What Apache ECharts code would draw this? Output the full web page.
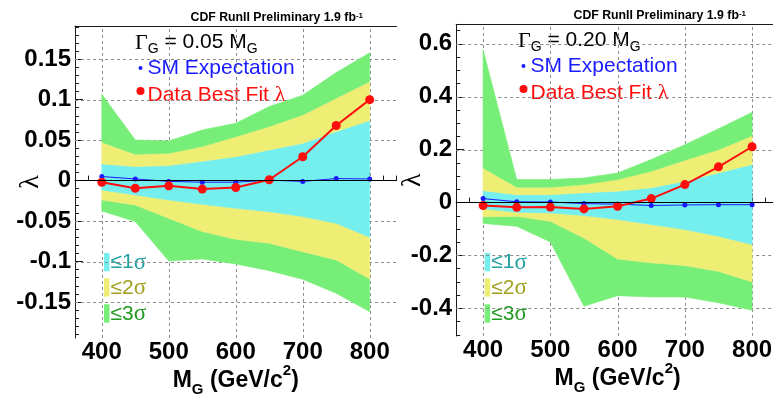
<!DOCTYPE html>
<html>
<head>
<meta charset="utf-8">
<script src="https://cdn.jsdelivr.net/npm/echarts@6/dist/echarts.min.js"></script>
<style>
  html, body { margin: 0; padding: 0; background: #fff; }
  #chart { width: 773px; height: 394px; }
</style>
</head>
<body>
<div id="chart"></div>
<script>
// Graviton mass points (GeV/c^2)
const massPoints = [400, 450, 500, 550, 600, 650, 700, 750, 800];
const xTickLabels = [400, 500, 600, 700, 800];

// Width = 0.05 M_G
const smNarrow  = [0.005, 0.002, -0.001, -0.002, -0.002, 0.0005, -0.001, 0.0025, 0.002];
const fitNarrow = [-0.002, -0.0095, -0.0065, -0.0105, -0.0085, 0.001, 0.0295, 0.068, 0.1];
const up1Narrow = [0.0206, 0.0173, 0.0185, 0.0239, 0.0296, 0.0379, 0.0461, 0.0605, 0.0741];
const up2Narrow = [0.0474, 0.0325, 0.0337, 0.042, 0.0543, 0.0667, 0.0811, 0.1018, 0.1223];
const up3Narrow = [0.1067, 0.0502, 0.049, 0.0626, 0.0709, 0.0914, 0.1055, 0.1335, 0.158];
const dn1Narrow = [-0.0116, -0.0177, -0.0239, -0.0293, -0.0342, -0.0384, -0.0445, -0.0528, -0.07];
const dn2Narrow = [-0.0239, -0.0301, -0.0466, -0.063, -0.0725, -0.0775, -0.0878, -0.098, -0.1216];
const dn3Narrow = [-0.0375, -0.0507, -0.0993, -0.0968, -0.103, -0.1113, -0.122, -0.1393, -0.162];
const yTicksNarrow = [-0.15, -0.1, -0.05, 0, 0.05, 0.1, 0.15];

// Width = 0.20 M_G
const smWide  = [0.015, 0.003, 0.002, -0.004, -0.006, -0.011, -0.009, -0.008, -0.008];
const fitWide = [-0.011, -0.018, -0.017, -0.024, -0.014, 0.015, 0.068, 0.135, 0.211];
const up1Wide = [0.045, 0.03, 0.03, 0.037, 0.043, 0.056, 0.081, 0.112, 0.144];
const up2Wide = [0.131, 0.058, 0.058, 0.068, 0.087, 0.118, 0.16, 0.2, 0.253];
const up3Wide = [0.578, 0.087, 0.087, 0.093, 0.112, 0.163, 0.219, 0.279, 0.341];
const dn1Wide = [-0.023, -0.037, -0.039, -0.049, -0.064, -0.083, -0.102, -0.127, -0.159];
const dn2Wide = [-0.054, -0.052, -0.071, -0.134, -0.213, -0.228, -0.238, -0.26, -0.3];
const dn3Wide = [-0.079, -0.09, -0.149, -0.392, -0.352, -0.357, -0.357, -0.379, -0.407];
const yTicksWide = [-0.4, -0.2, 0, 0.2, 0.4, 0.6];

const widthLabels = ['0.05', '0.20'];
const bandLabels = ['≤1', '≤2', '≤3'];
const headerText = 'CDF RunII Preliminary 1.9 fb';

const SANS = '"Liberation Sans", Arial, Helvetica, sans-serif';
const SERIF = '"Liberation Serif", "Times New Roman", serif';
const CYAN = '#75eeee', YELLOW = '#eeee75', GREEN = '#77ee77';
const bandTextColors = ['#20a0a0', '#a0a020', '#209a20'];
const AXIS = '#1a1a1a';
const GRID_COLOR = '#8c8c8c';
const X_MIN = 360, X_MAX = 840;

function stepTicks(lo, hi, step) {
  const out = [];
  for (let k = Math.ceil(lo / step - 1e-9); k * step <= hi + 1e-9; k++) out.push(+(k * step).toFixed(4));
  return out;
}

const panels = [
  { grid: { left: 75, top: 26, width: 321.5, height: 312 }, yMin: -0.1945, yMax: 0.191,
    yTicks: yTicksNarrow, yMinor: 0.01, sm: smNarrow, fit: fitNarrow,
    up: [up1Narrow, up2Narrow, up3Narrow], dn: [dn1Narrow, dn2Narrow, dn3Narrow],
    header: { x: 363, y: 12 }, ann: { x: 135, y: 32 }, legendX: 104 },
  { grid: { left: 456.2, top: 24.3, width: 322.8, height: 311.7 }, yMin: -0.5045, yMax: 0.674,
    yTicks: yTicksWide, yMinor: 0.05, sm: smWide, fit: fitWide,
    up: [up1Wide, up2Wide, up3Wide], dn: [dn1Wide, dn2Wide, dn3Wide],
    header: { x: 746, y: 10 }, ann: { x: 518, y: 30 }, legendX: 484.7 }
];

const grids = [], xAxes = [], yAxes = [], series = [], graphics = [];

// filled band between two boundary curves
function band(pi, lower, upper, color) {
  return {
    type: 'custom', xAxisIndex: 3 * pi, yAxisIndex: 2 * pi, silent: true, z: 2,
    data: [[600, 0]],
    renderItem(params, api) {
      const pts = massPoints.map((m, k) => api.coord([m, upper[k]]));
      for (let k = massPoints.length - 1; k >= 0; k--) pts.push(api.coord([massPoints[k], lower[k]]));
      return { type: 'polygon', shape: { points: pts }, style: { fill: color, stroke: color, lineWidth: 0.6 } };
    }
  };
}

// dashed grid at the labelled ticks: one polyline per grid line, dashed through lineDash
function gridLine(pi, from, to) {
  return {
    type: 'custom', xAxisIndex: 3 * pi, yAxisIndex: 2 * pi, silent: true, z: 2,
    data: [[600, 0]],
    renderItem(params, api) {
      const a = api.coord(from), b = api.coord(to);
      const snap = v => Math.round(v) + 0.5;
      const vertical = from[0] === to[0];
      const pts = vertical ? [[snap(a[0]), a[1]], [snap(b[0]), b[1]]] : [[a[0], snap(a[1])], [b[0], snap(b[1])]];
      return {
        type: 'polyline', shape: { points: pts },
        style: { stroke: GRID_COLOR, lineWidth: 1, lineDash: [3, 3], fill: null }
      };
    }
  };
}

panels.forEach((p, pi) => {
  grids.push(Object.assign({ containLabel: false, outerBoundsMode: 'none' }, p.grid));

  // primary x axis: minor ticks every 20, labels on the hundreds
  xAxes.push({
    gridIndex: pi, type: 'value', min: X_MIN, max: X_MAX, interval: 20, position: 'bottom',
    axisLine: { show: true, lineStyle: { color: AXIS, width: 1 } },
    axisTick: { show: true, inside: true, length: 5, lineStyle: { color: AXIS } },
    axisLabel: { customValues: xTickLabels, fontSize: 24, fontWeight: 'bold', fontFamily: SANS, color: '#000', margin: 2 },
    splitLine: { show: false },
    name: '{m|M}{s|G}{m| (GeV/c}{p|2}{m|)}',
    nameLocation: 'middle', nameGap: 25, nameMoveOverlap: false,
    nameTextStyle: {
      rich: {
        m: { fontSize: 23, fontWeight: 'bold', fontFamily: SANS, color: '#000', verticalAlign: 'top', padding: [6, 0, 0, 0] },
        s: { fontSize: 15, fontWeight: 'bold', fontFamily: SANS, color: '#000', verticalAlign: 'bottom', padding: [19, 0, 0, 0] },
        p: { fontSize: 15, fontWeight: 'bold', fontFamily: SANS, color: '#000', verticalAlign: 'top' }
      }
    }
  });
  // major ticks on the hundreds
  xAxes.push({
    gridIndex: pi, type: 'value', min: X_MIN, max: X_MAX, interval: 20, position: 'bottom',
    axisLine: { show: false },
    axisTick: { show: true, inside: true, length: 9, customValues: xTickLabels, lineStyle: { color: AXIS } },
    axisLabel: { show: false }, splitLine: { show: false }
  });
  // upper frame edge
  xAxes.push({
    gridIndex: pi, type: 'value', min: X_MIN, max: X_MAX, interval: 20, position: 'top',
    axisLine: { show: true, lineStyle: { color: AXIS, width: 1 } },
    axisTick: { show: false }, axisLabel: { show: false }, splitLine: { show: false }
  });

  yAxes.push({
    gridIndex: pi, type: 'value', min: p.yMin, max: p.yMax, position: 'left',
    axisLine: { show: true, onZero: false, lineStyle: { color: AXIS, width: 1 } },
    axisTick: { show: true, inside: true, length: 8, customValues: p.yTicks, lineStyle: { color: AXIS } },
    axisLabel: { customValues: p.yTicks, fontSize: 24, fontWeight: 'bold', fontFamily: SANS, color: '#000', margin: 4 },
    splitLine: { show: false },
    name: 'λ', nameLocation: 'middle', nameRotate: 90, nameGap: 30, nameMoveOverlap: false,
    nameTextStyle: { fontFamily: SERIF, fontSize: 28, color: '#000' }
  });
  yAxes.push({
    gridIndex: pi, type: 'value', min: p.yMin, max: p.yMax, position: 'left',
    axisLine: { show: false },
    axisTick: { show: true, inside: true, length: 4, customValues: stepTicks(p.yMin, p.yMax, p.yMinor), lineStyle: { color: AXIS } },
    axisLabel: { show: false }, splitLine: { show: false }
  });

  xTickLabels.forEach(v => series.push(gridLine(pi, [v, p.yMin], [v, p.yMax])));
  p.yTicks.filter(v => v !== 0).forEach(v => series.push(gridLine(pi, [X_MIN, v], [X_MAX, v])));

  // significance bands
  series.push(band(pi, p.dn[2], p.dn[1], GREEN));
  series.push(band(pi, p.dn[1], p.dn[0], YELLOW));
  series.push(band(pi, p.dn[0], p.up[0], CYAN));
  series.push(band(pi, p.up[0], p.up[1], YELLOW));
  series.push(band(pi, p.up[1], p.up[2], GREEN));

  series.push({
    name: 'SM Expectation', type: 'line', xAxisIndex: 3 * pi, yAxisIndex: 2 * pi, z: 3,
    data: massPoints.map((m, k) => [m, p.sm[k]]),
    symbol: 'circle', symbolSize: 5, showSymbol: true,
    lineStyle: { color: '#1a1aff', width: 1 }, itemStyle: { color: '#1a1aff' },
    markLine: {
      silent: true, symbol: 'none', label: { show: false }, animation: false,
      lineStyle: { type: 'solid', color: '#000', width: 1 },
      data: [{ yAxis: 0 }]
    }
  });
  series.push({
    name: 'Data Best Fit λ', type: 'line', xAxisIndex: 3 * pi, yAxisIndex: 2 * pi, z: 4,
    data: massPoints.map((m, k) => [m, p.fit[k]]),
    symbol: 'circle', symbolSize: 9, showSymbol: true,
    lineStyle: { color: '#ff0d0d', width: 2 }, itemStyle: { color: '#ff0d0d' }
  });

  // header
  graphics.push({
    type: 'text', x: p.header.x, y: p.header.y,
    style: {
      text: headerText + '{sup|-1}', align: 'right', verticalAlign: 'top',
      font: 'bold 12.3px ' + SANS, fill: '#000',
      rich: { sup: { fontSize: 8, fontWeight: 'bold', fontFamily: SANS, verticalAlign: 'top', fill: '#000' } }
    }
  });
  // width annotation
  graphics.push({
    type: 'text', x: p.ann.x, y: p.ann.y,
    style: {
      text: '{g|Γ}{s|G}{t| = ' + widthLabels[pi] + ' M}{s|G}', align: 'left', verticalAlign: 'top',
      rich: {
        g: { fontSize: 22, fontFamily: SERIF, fill: '#000', verticalAlign: 'top' },
        t: { fontSize: 21, fontFamily: SANS, fill: '#000', verticalAlign: 'top' },
        s: { fontSize: 14, fontFamily: SANS, fill: '#000', verticalAlign: 'bottom', padding: [10, 0, 0, 0] }
      }
    }
  });
  // series key
  const keyX = p.ann.x + 5.5;
  graphics.push({ type: 'circle', shape: { cx: keyX, cy: p.ann.y + 36, r: 2 }, style: { fill: '#1a1aff' } });
  graphics.push({ type: 'text', x: keyX + 7, y: p.ann.y + 36,
    style: { text: 'SM Expectation', font: '21px ' + SANS, fill: '#1a1aff', align: 'left', verticalAlign: 'middle' } });
  graphics.push({ type: 'circle', shape: { cx: keyX, cy: p.ann.y + 59, r: 4 }, style: { fill: '#ff0d0d' } });
  graphics.push({ type: 'text', x: keyX + 7, y: p.ann.y + 63,
    style: { text: 'Data Best Fit {l|λ}', font: '21px ' + SANS, fill: '#ff0d0d', align: 'left', verticalAlign: 'middle',
      rich: { l: { fontSize: 22, fontFamily: SERIF, fill: '#ff0d0d' } } } });

  // band key
  const swatches = [CYAN, YELLOW, GREEN];
  const rowTop = [253, 278.3, 304.3];
  swatches.forEach((c, k) => {
    graphics.push({ type: 'rect', shape: { x: p.legendX, y: rowTop[k], width: 5.5, height: 18.3 }, style: { fill: c } });
    graphics.push({ type: 'text', x: p.legendX + 6.5, y: rowTop[k] + 9.5,
      style: { text: bandLabels[k] + '{s|σ}', font: '21px ' + SANS, fill: bandTextColors[k], align: 'left', verticalAlign: 'middle',
        rich: { s: { fontSize: 23, fontFamily: SERIF, fill: bandTextColors[k] } } } });
  });
});

const chart = echarts.init(document.getElementById('chart'), null, { renderer: 'canvas' });
chart.setOption({
  animation: false,
  backgroundColor: '#fff',
  grid: grids,
  xAxis: xAxes,
  yAxis: yAxes,
  series: series,
  graphic: graphics
});
</script>
</body>
</html>
